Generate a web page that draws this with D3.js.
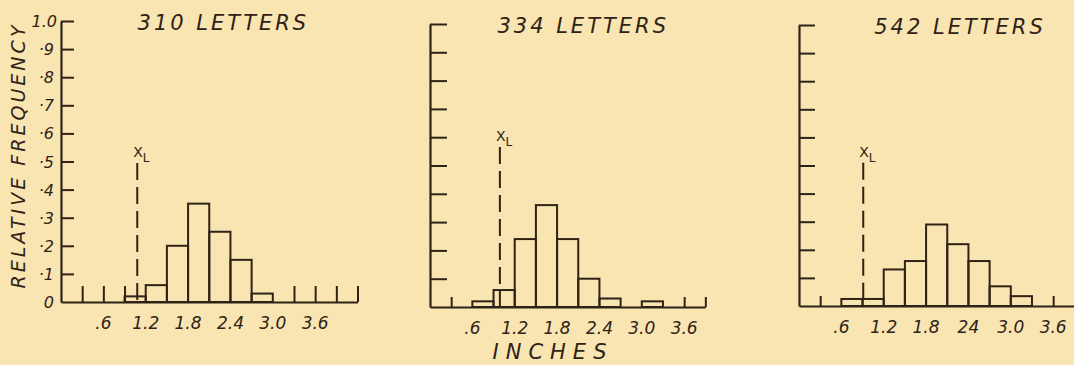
<!DOCTYPE html>
<html>
<head>
<meta charset="utf-8">
<script src="https://cdn.jsdelivr.net/npm/d3@7"></script>
<style>
  html, body { margin: 0; padding: 0; background: #f8e5b1; }
  svg { display: block; }
  text { font-family: "DejaVu Sans", "Liberation Sans", sans-serif; fill: #2f2216; }
  .hand { font-style: oblique; }
</style>
</head>
<body>
<svg id="chart" width="1074" height="365"></svg>
<script>
// Relative frequency of letter heights (inches), three samples.
const binWidth = 0.3;

const titles = ["310 LETTERS", "334 LETTERS", "542 LETTERS"];

// left edge of each histogram bin (inches)
const binStarts1 = [0.9, 1.2, 1.5, 1.8, 2.1, 2.4, 2.7];
const freq1      = [0.02, 0.06, 0.20, 0.35, 0.25, 0.15, 0.03];

const binStarts2 = [0.6, 0.9, 1.2, 1.5, 1.8, 2.1, 2.4, 2.7, 3.0];
const freq2      = [0.02, 0.06, 0.24, 0.36, 0.24, 0.10, 0.03, 0, 0.02];

const binStarts3 = [0.6, 0.9, 1.2, 1.5, 1.8, 2.1, 2.4, 2.7, 3.0];
const freq3      = [0.025, 0.025, 0.13, 0.16, 0.29, 0.22, 0.16, 0.07, 0.035];

// X_L marker: position (inches) and height of the dashed line (relative frequency)
const xL    = [1.08, 0.99, 0.91];
const xLTop = [0.495, 0.565, 0.51];

// x-axis extent (inches) of each panel
const xMax = [4.2, 3.9, 3.9];

// small upright ticks along the baseline where no bar edge sits
const xMinorTicks1 = [0.3, 0.6, 0.9, 3.3, 3.6, 3.9, 4.2];
const xMinorTicks2 = [0.3, 3.6, 3.9];
const xMinorTicks3 = [0.3, 3.6];

const xLabelValues = [0.6, 1.2, 1.8, 2.4, 3.0, 3.6];
const xLabels1 = [".6", "1.2", "1.8", "2.4", "3.0", "3.6"];
const xLabels2 = [".6", "1.2", "1.8", "2.4", "3.0", "3.6"];
const xLabels3 = [".6", "1.2", "1.8", "24", "3.0", "3.6"];

const yTickValues = [0.1, 0.2, 0.3, 0.4, 0.5, 0.6, 0.7, 0.8, 0.9, 1.0];
const yTickLabels = ["0", "·1", "·2", "·3", "·4", "·5", "·6", "·7", "·8", "·9", "1.0"];

const yTitle = "RELATIVE FREQUENCY";
const xTitle = "INCHES";

// ---- layout ----
const ink = "#2f2216";
const pxPerInch = 70.6;
const panels = [
  { x0: 61,  base: 302, top: 21, yTick: 13, xTick: 16, titleAt: 2.3,  starts: binStarts1, freq: freq1, minor: xMinorTicks1, labels: xLabels1, yLabels: true },
  { x0: 430, base: 307, top: 24, yTick: 17, xTick: 10, titleAt: 2.17, starts: binStarts2, freq: freq2, minor: xMinorTicks2, labels: xLabels2, yLabels: false },
  { x0: 799, base: 306, top: 25, yTick: 16, xTick: 10, titleAt: 2.28, starts: binStarts3, freq: freq3, minor: xMinorTicks3, labels: xLabels3, yLabels: false }
];

const svg = d3.select("#chart");

panels.forEach((p, i) => {
  const x = d3.scaleLinear().domain([0, xMax[i]]).range([p.x0, p.x0 + xMax[i] * pxPerInch]);
  const y = d3.scaleLinear().domain([0, 1]).range([p.base, p.top]);
  const g = svg.append("g");

  // bars
  const bins = p.starts.map((s, k) => ({ s, f: p.freq[k] })).filter(d => d.f > 0);
  g.selectAll("rect.bar").data(bins).join("rect")
    .attr("class", "bar")
    .attr("x", d => x(d.s))
    .attr("y", d => y(d.f))
    .attr("width", d => x(d.s + binWidth) - x(d.s))
    .attr("height", d => y(0) - y(d.f))
    .attr("fill", "none")
    .attr("stroke", ink)
    .attr("stroke-width", 2);

  // y axis with inward ticks
  const yAxis = d3.axisLeft(y).tickValues(yTickValues).tickSizeInner(-p.yTick).tickSizeOuter(0).tickFormat("");
  const ya = g.append("g").attr("transform", `translate(${p.x0},0)`).call(yAxis);
  ya.select(".domain").attr("stroke", ink).attr("stroke-width", 2.2);
  ya.selectAll(".tick line").attr("stroke", ink).attr("stroke-width", 2);

  // x axis baseline with upright ticks
  const xAxis = d3.axisBottom(x).tickValues(p.minor).tickSizeInner(-p.xTick).tickSizeOuter(0).tickFormat("");
  const xa = g.append("g").attr("transform", `translate(0,${p.base})`).call(xAxis);
  xa.select(".domain").attr("stroke", ink).attr("stroke-width", 2.2);
  xa.selectAll(".tick line").attr("stroke", ink).attr("stroke-width", 2);

  // x labels
  g.selectAll("text.xl").data(xLabelValues).join("text")
    .attr("class", "xl hand")
    .attr("x", d => x(d))
    .attr("y", p.base + 27)
    .attr("text-anchor", "middle")
    .attr("font-size", 17)
    .text((d, k) => p.labels[k]);

  // y labels (first panel only)
  if (p.yLabels) {
    const yv = [0].concat(yTickValues);
    g.selectAll("text.yl").data(yv).join("text")
      .attr("class", "yl hand")
      .attr("x", d => d === 1 ? p.x0 - 4 : p.x0 - 7)
      .attr("y", d => y(d) + 6)
      .attr("text-anchor", "end")
      .attr("font-size", 16)
      .text((d, k) => yTickLabels[k]);
  }

  // title
  g.append("text")
    .attr("class", "hand")
    .attr("x", x(p.titleAt))
    .attr("y", p.top + 9)
    .attr("text-anchor", "middle")
    .attr("font-size", 21)
    .attr("letter-spacing", 3)
    .text(titles[i]);

  // X_L dashed marker
  g.append("line")
    .attr("x1", x(xL[i])).attr("x2", x(xL[i]))
    .attr("y1", y(xLTop[i])).attr("y2", y(0))
    .attr("stroke", ink).attr("stroke-width", 2)
    .attr("stroke-dasharray", "17,7");
  const t = g.append("text")
    .attr("x", x(xL[i]) - 4)
    .attr("y", y(xLTop[i]) - 6)
    .attr("font-size", 14);
  t.append("tspan").text("X");
  t.append("tspan").attr("dy", 5).attr("font-size", 12).text("L");
});

// axis titles
svg.append("text")
  .attr("class", "hand")
  .attr("transform", "translate(25,157) rotate(-90)")
  .attr("text-anchor", "middle")
  .attr("font-size", 19)
  .attr("textLength", 263)
  .attr("lengthAdjust", "spacing")
  .text(yTitle);

svg.append("text")
  .attr("class", "hand")
  .attr("x", 553)
  .attr("y", 359)
  .attr("text-anchor", "middle")
  .attr("font-size", 21)
  .attr("letter-spacing", 7)
  .text(xTitle);
</script>
</body>
</html>
